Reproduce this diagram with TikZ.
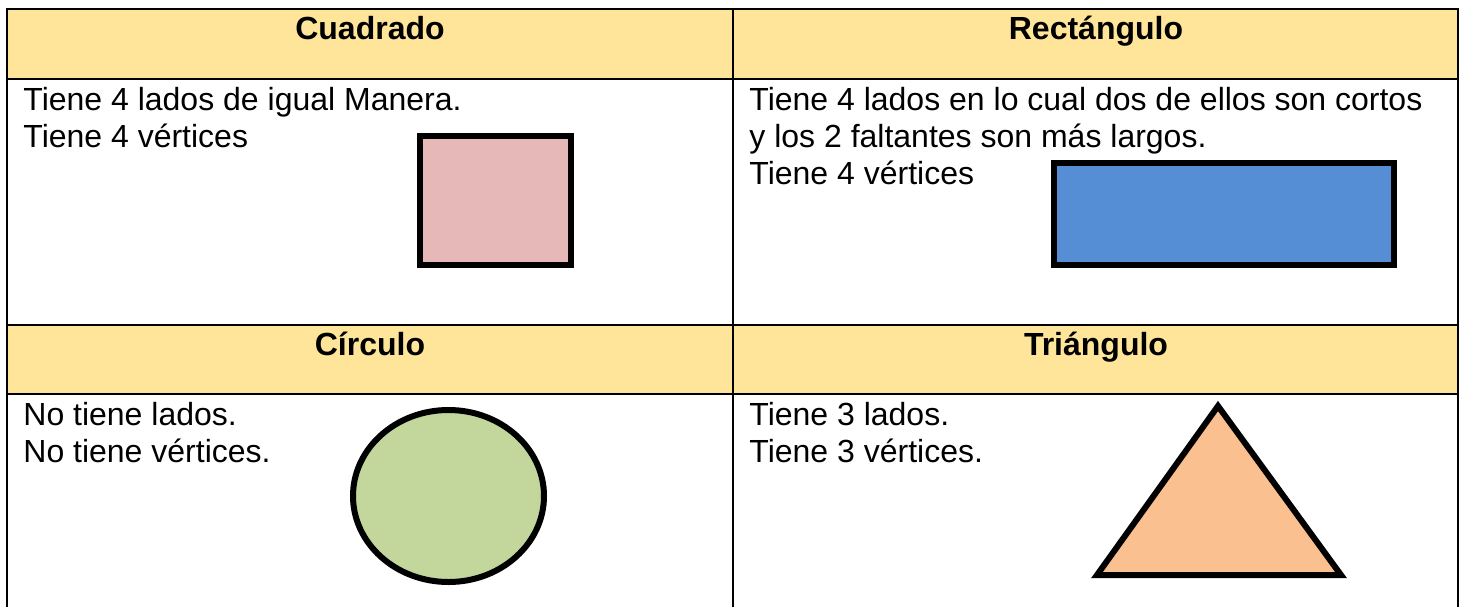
\documentclass[tikz,border=0pt]{standalone}
\usepackage{fontspec}
\setmainfont{Liberation Sans}
\definecolor{headfill}{HTML}{FFE599}
\definecolor{sqfill}{HTML}{E6B9B8}
\definecolor{rectfill}{HTML}{558ED5}
\definecolor{circfill}{HTML}{C3D69B}
\definecolor{trifill}{HTML}{FAC090}
\tikzset{
	headtext/.style={anchor=base, inner sep=0pt, font=\fontsize{16}{18.5}\selectfont\bfseries},
	celltext/.style={anchor=base west, inner sep=0pt, font=\fontsize{16}{18.5}\selectfont},
	gridline/.style={line width=1pt},
	shapeline/.style={line width=3pt, line join=miter}
}

\begin{document}
\begin{tikzpicture}[x=0.5pt, y=-0.5pt]
			%%%%% START %%%%%
			\useasboundingbox (0, 0) rectangle (1463, 607);
			
			\fill[headfill] (7, 9) rectangle (1458, 79);
			\fill[headfill] (7, 325) rectangle (1458, 394);
			
			\draw[gridline] (7, 607) -- (7, 9) -- (1458, 9) -- (1458, 607);
			\draw[gridline] (7, 79) -- (1458, 79);
			\draw[gridline] (7, 325) -- (1458, 325);
			\draw[gridline] (7, 394) -- (1458, 394);
			\draw[gridline] (733, 9) -- (733, 607);
			
			\node[headtext] (cuadHead) at (370, 39) {Cuadrado};
			\node[headtext] (rectHead) at (1096, 39) {Rectángulo};
			\node[headtext] (circHead) at (370, 355) {Círculo};
			\node[headtext] (triHead) at (1096, 355) {Triángulo};
			
			\node[celltext] (cuadA) at (23, 110) {Tiene 4 lados de igual Manera.};
			\node[celltext] (cuadB) at (23, 147) {Tiene 4 vértices};
			\draw[shapeline, fill=sqfill] (420, 136) rectangle (571, 265);
			
			\node[celltext] (rectA) at (749, 110) {Tiene 4 lados en lo cual dos de ellos son cortos};
			\node[celltext] (rectB) at (749, 147) {y los 2 faltantes son más largos.};
			\node[celltext] (rectC) at (749, 184) {Tiene 4 vértices};
			\draw[shapeline, fill=rectfill] (1054, 163) rectangle (1394, 265);
			
			\node[celltext] (circA) at (23, 425) {No tiene lados.};
			\node[celltext] (circB) at (23, 462) {No tiene vértices.};
			\draw[shapeline, fill=circfill] (448.5, 496) ellipse [x radius=47.75pt, y radius=43pt];
			
			\node[celltext] (triA) at (749, 425) {Tiene 3 lados.};
			\node[celltext] (triB) at (749, 462) {Tiene 3 vértices.};
			\draw[shapeline, fill=trifill] (1218, 406) -- (1341, 575) -- (1097, 575) -- cycle;
			
			%%%%% END %%%%%
\end{tikzpicture}
\end{document}
